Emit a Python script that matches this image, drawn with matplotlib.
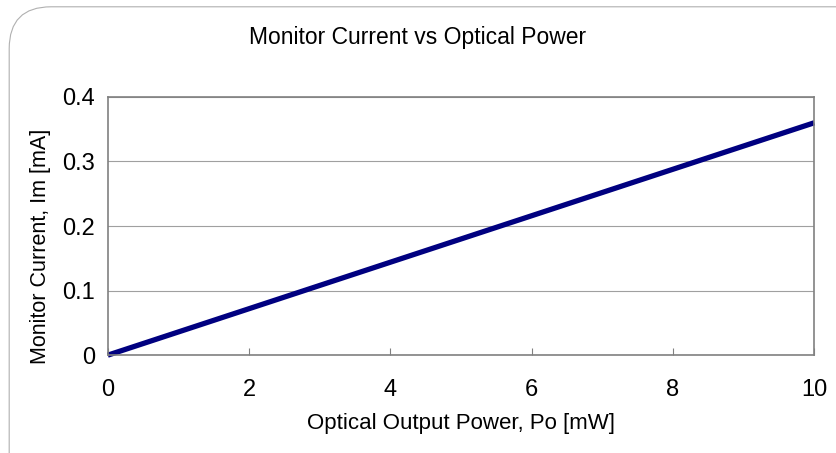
import matplotlib
matplotlib.use("Agg")
import matplotlib.pyplot as plt
from matplotlib.patches import FancyBboxPatch

# data
power_mw = [0, 10]
current_ma = [0, 0.36]
x_ticks = [0, 2, 4, 6, 8, 10]
y_ticks = [0, 0.1, 0.2, 0.3, 0.4]
y_labels = ["0", "0.1", "0.2", "0.3", "0.4"]

plt.rcParams['font.family'] = ['Liberation Sans', 'DejaVu Sans']

fig = plt.figure(figsize=(8.36, 4.53), dpi=100)

# rounded frame around the whole chart (right/bottom edges run off the image)
frame = FancyBboxPatch((0.011, -0.1), 1.05, 1.085,
                       boxstyle="round,pad=0,rounding_size=0.05",
                       transform=fig.transFigure, facecolor="white",
                       edgecolor="#b0b0b0", linewidth=0.8, mutation_aspect=1.85,
                       zorder=-5)
fig.patches.append(frame)

ax = fig.add_axes([0.129, 0.216, 0.845, 0.570])
ax.set_zorder(2)
ax.plot(power_mw, current_ma, color="#000080", linewidth=3.8, solid_capstyle="butt", clip_on=False)

ax.set_xlim(0, 10)
ax.set_ylim(0, 0.4)
ax.set_xticks(x_ticks)
ax.set_xticklabels([str(v) for v in x_ticks])
ax.set_yticks(y_ticks)
ax.set_yticklabels(y_labels)

ax.grid(axis="y", color="#a0a0a0", linewidth=0.8)
ax.set_axisbelow(True)
for s in ax.spines.values():
    s.set_color("#808080")
    s.set_linewidth(1.2)

ax.tick_params(axis="x", direction="in", length=5, color="#808080", labelsize=17, pad=17)
ax.tick_params(axis="y", length=0, labelsize=17, pad=9)

ax.set_xlabel("Optical Output Power, Po [mW]", fontsize=16)
ax.xaxis.set_label_coords(0.5, -0.225)
ax.set_ylabel("Monitor Current, Im [mA]", fontsize=15.5)
ax.yaxis.set_label_coords(-0.081, 0.42)
fig.suptitle("Monitor Current vs Optical Power", fontsize=16.5, y=0.918, va="center")

fig.savefig("out.png", dpi=100)
